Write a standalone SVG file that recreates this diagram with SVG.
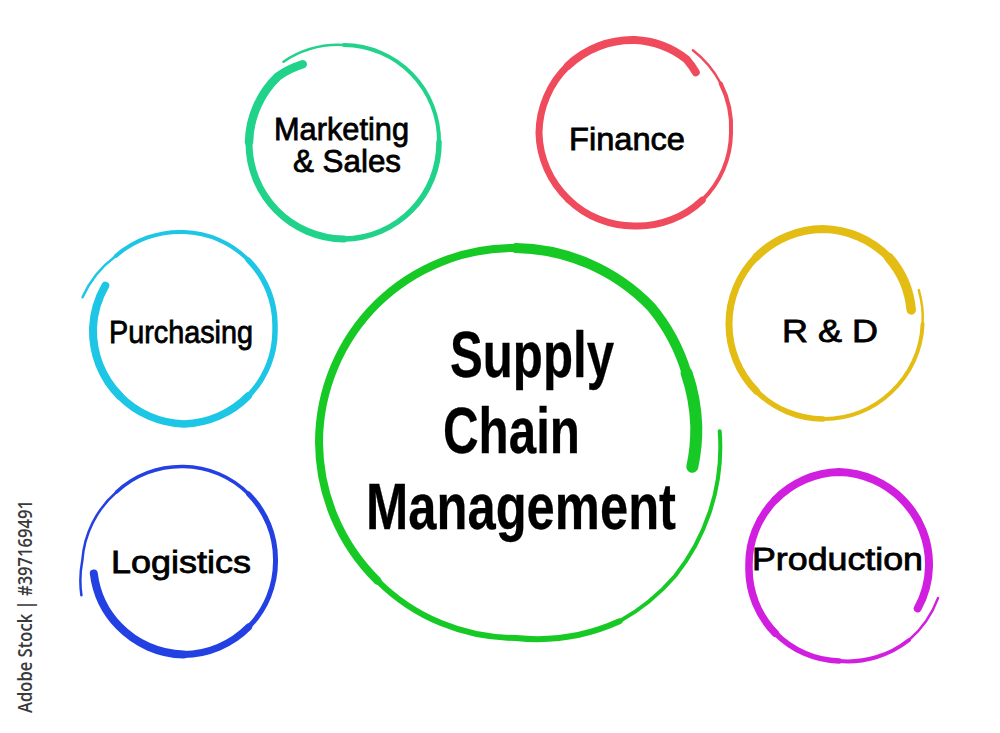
<svg xmlns="http://www.w3.org/2000/svg" width="1000" height="733" viewBox="0 0 1000 733">
  <style>
    .ring { fill: none; stroke-linecap: round; stroke-linejoin: round; }
    .lbl { font-family: "Liberation Sans", Arial, Helvetica, sans-serif; fill: #000; stroke: #000; stroke-width: 0.8px; font-size: 32px; }
    .big { font-size: 64px; font-weight: bold; stroke-width: 0.3px; }
    .wm { font-family: "Open Sans", "DejaVu Sans", sans-serif; font-size: 20px; font-weight: 600; fill: #3a3a3a; }
    .g { stroke: #17c924; }
    .t { stroke: #20d28a; }
    .r { stroke: #f04a5d; }
    .c { stroke: #1dc6e4; }
    .b { stroke: #2341e3; }
    .y { stroke: #e3bd14; }
    .m { stroke: #d11fdf; }
  </style>
  <rect width="1000" height="733" fill="#ffffff"/>

  <g id="connectors"/>

  <g id="scm">
    <path class="ring g" stroke-width="4" d="M 719.7 431.3 A 205 205 0 0 1 709.6 512.5 A 207 207 0 0 1 675.3 575.7 A 207 207 0 0 1 619.5 621.3"/>
    <path class="ring g" stroke-width="6" d="M 619.5 621.3 A 200 200 0 0 1 516 638 A 196 196 0 0 1 377.4 580.6"/>
    <path class="ring g" stroke-width="8" d="M 377.4 580.6 A 196 196 0 0 1 319 442 A 196 196 0 0 1 377.4 303.4 A 195 195 0 0 1 516 248"/>
    <path class="ring g" stroke-width="10" d="M 516 248 A 192 192 0 0 1 651.1 306.9 A 187 187 0 0 1 686.6 373.1"/>
    <path class="ring g" stroke-width="12" d="M 686.6 373.1 A 182 182 0 0 1 696.3 426.2 A 180 180 0 0 1 692.3 466.8"/>
    <text class="lbl big" x="450" y="377" textLength="164" lengthAdjust="spacingAndGlyphs">Supply</text>
    <text class="lbl big" x="443" y="453" textLength="137" lengthAdjust="spacingAndGlyphs">Chain</text>
    <text class="lbl big" x="366" y="529" textLength="310" lengthAdjust="spacingAndGlyphs">Management</text>
  </g>

  <g id="marketing">
    <path class="ring t" stroke-width="2.5" d="M 283.5 61.7 A 99 99 0 0 1 344 45"/>
    <path class="ring t" stroke-width="4" d="M 344 45 A 96 96 0 0 1 411.9 74.1 A 96 96 0 0 1 439 142"/>
    <path class="ring t" stroke-width="5.5" d="M 439 142 A 96 96 0 0 1 411.9 209.9 A 96 96 0 0 1 344 239"/>
    <path class="ring t" stroke-width="7" d="M 344 239 A 96 96 0 0 1 276.1 209.9 A 96 96 0 0 1 249 142"/>
    <path class="ring t" stroke-width="8.5" d="M 249 142 A 94 94 0 0 1 278.2 76.2 A 92 92 0 0 1 302.7 64.3"/>
    <text class="lbl" x="274" y="140" textLength="135" lengthAdjust="spacingAndGlyphs">Marketing</text>
    <text class="lbl" x="293" y="172" textLength="108" lengthAdjust="spacingAndGlyphs">&amp; Sales</text>
  </g>

  <g id="finance">
    <path class="ring r" stroke-width="2.5" d="M 692.9 50.3 A 100 100 0 0 1 720.7 83.5"/>
    <path class="ring r" stroke-width="4" d="M 720.7 83.5 A 97 97 0 0 1 731 133 A 95 95 0 0 1 702.2 200.2"/>
    <path class="ring r" stroke-width="7" d="M 702.2 200.2 A 94 94 0 0 1 635 226 A 94 94 0 0 1 568.5 199.5"/>
    <path class="ring r" stroke-width="7" d="M 568.5 199.5 A 95 95 0 0 1 539 133 A 95 95 0 0 1 567.8 65.8"/>
    <path class="ring r" stroke-width="8" d="M 567.8 65.8 A 94 94 0 0 1 635 40 A 92 92 0 0 1 686.6 59.3 A 88 88 0 0 1 695.8 72.2"/>
    <text class="lbl" x="569" y="150" textLength="116" lengthAdjust="spacingAndGlyphs">Finance</text>
  </g>

  <g id="purchasing">
    <path class="ring c" stroke-width="2.5" d="M 82.5 297.3 A 104 104 0 0 1 115.8 256"/>
    <path class="ring c" stroke-width="4" d="M 115.8 256 A 98 98 0 0 1 184 232 A 94 94 0 0 1 248.3 260.1"/>
    <path class="ring c" stroke-width="5.5" d="M 248.3 260.1 A 93 93 0 0 1 275 328 A 93 93 0 0 1 248.3 395.9"/>
    <path class="ring c" stroke-width="7.5" d="M 248.3 395.9 A 94 94 0 0 1 184 424 A 94 94 0 0 1 119.7 395.9"/>
    <path class="ring c" stroke-width="8" d="M 119.7 395.9 A 93 93 0 0 1 93 328 A 92 92 0 0 1 105.3 285.7"/>
    <text class="lbl" x="109" y="343" textLength="144" lengthAdjust="spacingAndGlyphs">Purchasing</text>
  </g>

  <g id="logistics">
    <path class="ring b" stroke-width="2.5" d="M 81.4 595.2 A 104 104 0 0 1 82.3 560.5 A 100 100 0 0 1 116.5 492"/>
    <path class="ring b" stroke-width="3.5" d="M 116.5 492 A 95 95 0 0 1 183.5 466.5 A 93 93 0 0 1 248.6 494"/>
    <path class="ring b" stroke-width="5" d="M 248.6 494 A 93 93 0 0 1 275.5 560.5 A 93 93 0 0 1 248.6 627"/>
    <path class="ring b" stroke-width="7" d="M 248.6 627 A 93 93 0 0 1 183.5 654.5"/>
    <path class="ring b" stroke-width="8" d="M 183.5 654.5 A 93 93 0 0 1 119.1 626.3 A 92 92 0 0 1 93.8 573.4"/>
    <text class="lbl" x="111" y="573" textLength="140" lengthAdjust="spacingAndGlyphs">Logistics</text>
  </g>

  <g id="rnd">
    <path class="ring y" stroke-width="2.5" d="M 918.8 290.1 A 100 100 0 0 1 922.6 324"/>
    <path class="ring y" stroke-width="4" d="M 922.6 324 A 98 98 0 0 1 890.8 392.5 A 96 96 0 0 1 823 419"/>
    <path class="ring y" stroke-width="5.5" d="M 823 419 A 95 95 0 0 1 756.5 391.2"/>
    <path class="ring y" stroke-width="7" d="M 756.5 391.2 A 95 95 0 0 1 729 324 A 95 95 0 0 1 756.5 256.8"/>
    <path class="ring y" stroke-width="8" d="M 756.5 256.8 A 95 95 0 0 1 823 229 A 94 94 0 0 1 888.8 257.5"/>
    <path class="ring y" stroke-width="9.5" d="M 888.8 257.5 A 92 92 0 0 1 911.2 309.9"/>
    <text class="lbl" x="782" y="342" textLength="96" lengthAdjust="spacingAndGlyphs">R &amp; D</text>
  </g>

  <g id="production">
    <path class="ring m" stroke-width="2.5" d="M 938 598.1 A 102 102 0 0 1 909 640"/>
    <path class="ring m" stroke-width="4" d="M 909 640 A 98 98 0 0 1 839 661"/>
    <path class="ring m" stroke-width="5.5" d="M 839 661 A 93 93 0 0 1 775.4 633.3"/>
    <path class="ring m" stroke-width="7.5" d="M 775.4 633.3 A 92 92 0 0 1 749 566.5 A 92 92 0 0 1 775.4 499.7"/>
    <path class="ring m" stroke-width="8" d="M 775.4 499.7 A 92 92 0 0 1 839 472 A 92 92 0 0 1 902.6 499.7 A 92 92 0 0 1 929 566.5 A 90 90 0 0 1 917.7 608.4"/>
    <text class="lbl" x="752" y="570" textLength="171" lengthAdjust="spacingAndGlyphs">Production</text>
  </g>

  <text class="wm" transform="translate(32 713) rotate(-90)" x="0" y="0" textLength="213" lengthAdjust="spacingAndGlyphs">Adobe Stock | #397169491</text>
</svg>
